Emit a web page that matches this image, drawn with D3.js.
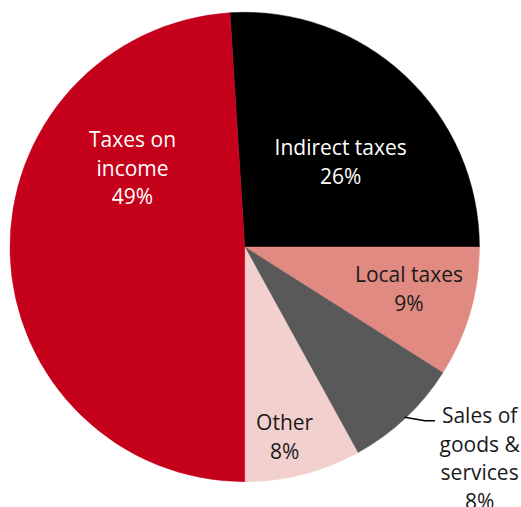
<!DOCTYPE html>
<html>
<head>
<meta charset="utf-8">
<script src="https://cdn.jsdelivr.net/npm/d3@7"></script>
<style>
  html, body { margin: 0; padding: 0; background: #fff; }
  svg { display: block; }
  text { font-family: "Open Sans", "Noto Sans", sans-serif; }
</style>
</head>
<body>
<script>
// Revenue composition (share of total, %)
const categories = ["Indirect taxes", "Local taxes", "Sales of goods & services", "Other", "Taxes on income"];
const shares = [26, 9, 8, 8, 49];
const labelLines = [
  ["Indirect taxes", "26%"],
  ["Local taxes", "9%"],
  ["Sales of", "goods &", "services", "8%"],
  ["Other", "8%"],
  ["Taxes on", "income", "49%"]
];
const sliceColors = ["#000000", "#E08A82", "#595959", "#F2D0CE", "#C5001A"];
const textColors = ["#ffffff", "#1a1a1a", "#1a1a1a", "#1a1a1a", "#ffffff"];

const width = 521, height = 507;
const cx = 244.7, cy = 247, radius = 234.7;
const startDeg = -3.6;

// label anchors as offsets in units of the radius: [x of text centre, first baseline]
const labelAnchor = [
  [0.409, -0.392],
  [0.700, 0.150],
  [1.001, 0.751],
  [0.170, 0.780],
  [-0.478, -0.425]
];
const lineStep = 28.6;

const svg = d3.select("body").append("svg")
  .attr("width", width).attr("height", height);

const g = svg.append("g").attr("transform", `translate(${cx},${cy})`);

const pie = d3.pie()
  .sort(null)
  .value(d => d)
  .startAngle(startDeg * Math.PI / 180)
  .endAngle((startDeg + 360) * Math.PI / 180);

const arcs = pie(shares);
const arc = d3.arc().innerRadius(0).outerRadius(radius);

g.selectAll("path.slice")
  .data(arcs)
  .join("path")
  .attr("class", "slice")
  .attr("d", arc)
  .attr("fill", (d, i) => sliceColors[i])
  .attr("stroke", (d, i) => sliceColors[i])
  .attr("stroke-width", 0.5);

// leader line for the small outside label
const outer = d3.arc().innerRadius(radius - 1).outerRadius(radius - 1);
const salesIdx = 2;
const p0 = outer.centroid(arcs[salesIdx]);
const elbow = [0.768 * radius, 0.74 * radius];
const end = [0.811 * radius, 0.74 * radius];
g.append("path")
  .attr("d", d3.line()([p0, elbow, end]))
  .attr("fill", "none")
  .attr("stroke", "#000")
  .attr("stroke-width", 1.5);

// labels
arcs.forEach((a, i) => {
  const [ax, ay] = labelAnchor[i];
  const t = g.append("text")
    .attr("text-anchor", "middle")
    .attr("fill", textColors[i])
    .attr("font-size", 21);
  labelLines[i].forEach((line, k) => {
    t.append("tspan")
      .attr("x", ax * radius)
      .attr("y", ay * radius + k * lineStep)
      .text(line);
  });
});
</script>
</body>
</html>
